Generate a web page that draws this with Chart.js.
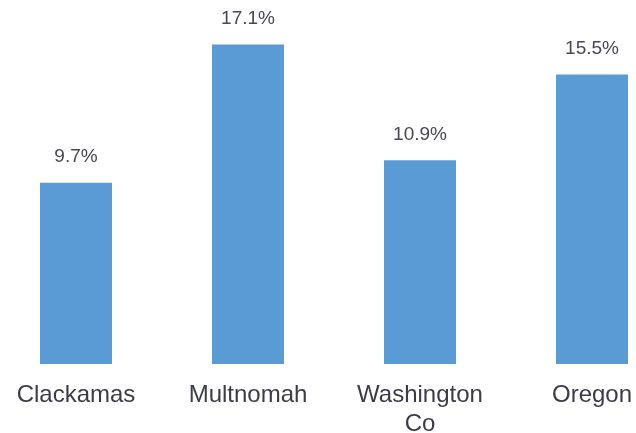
<!DOCTYPE html>
<html>
<head>
<meta charset="utf-8">
<script src="https://cdn.jsdelivr.net/npm/chart.js@4"></script>
<style>
  html, body { margin: 0; padding: 0; background: #fff; overflow: hidden; }
  #wrap { position: absolute; left: -10px; top: 0; width: 688px; height: 433px; }
</style>
</head>
<body>
<div id="wrap"><canvas id="chart"></canvas></div>
<script>
const regions = ['Clackamas', 'Multnomah', ['Washington', 'Co'], 'Oregon'];
const percents = [9.7, 17.1, 10.9, 15.5];
const barColor = '#5b9bd5';

// value labels above each bar
const barLabels = {
    id: 'barLabels',
    afterDatasetsDraw(chart) {
        const ctx = chart.ctx;
        const meta = chart.getDatasetMeta(0);
        ctx.save();
        ctx.font = '19px "Liberation Sans", Arial, sans-serif';
        ctx.fillStyle = '#484852';
        ctx.textAlign = 'center';
        ctx.textBaseline = 'middle';
        meta.data.forEach((bar, i) => {
            ctx.fillText(percents[i].toFixed(1) + '%', bar.x, bar.y - 26);
        });
        ctx.restore();
    }
};

new Chart(document.getElementById('chart'), {
    type: 'bar',
    data: {
        labels: regions,
        datasets: [{
            data: percents,
            backgroundColor: barColor,
            borderWidth: 0,
            barPercentage: 1,
            categoryPercentage: 0.4186
        }]
    },
    options: {
        responsive: true,
        maintainAspectRatio: false,
        animation: false,
        layout: { padding: { top: 9, left: 0, right: 0, bottom: 0 } },
        plugins: {
            legend: { display: false },
            tooltip: { enabled: false }
        },
        scales: {
            y: {
                display: false,
                min: 0,
                max: 19
            },
            x: {
                grid: { display: false, drawTicks: false },
                border: { display: false },
                ticks: {
                    color: '#3c3c48',
                    font: { family: '"Liberation Sans", Arial, sans-serif', size: 24, lineHeight: '29px' },
                    padding: 17,
                    maxRotation: 0,
                    autoSkip: false
                },
                afterFit(scale) { scale.height = 69; }
            }
        }
    },
    plugins: [barLabels]
});
</script>
</body>
</html>
